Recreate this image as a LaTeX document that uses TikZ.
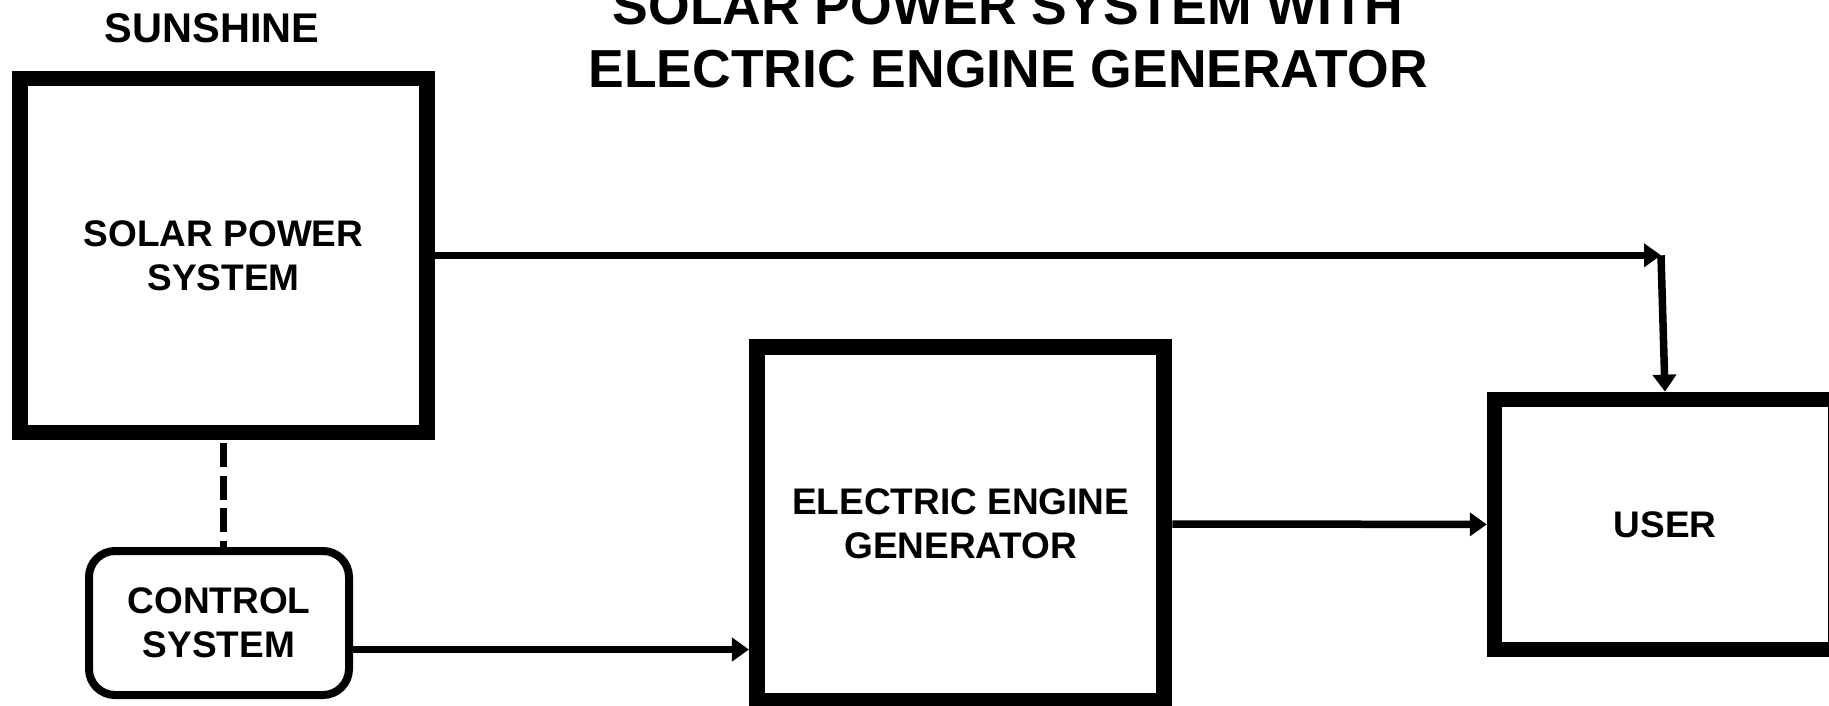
\documentclass[tikz,border=0pt]{standalone}
\usepackage{fontspec}
\setmainfont{Liberation Sans}
\usetikzlibrary{arrows.meta}
\newcommand\dgbody{\fontsize{37pt}{44pt}\selectfont\bfseries}
\newcommand\dgtitle{\fontsize{53.5pt}{62.7pt}\selectfont\bfseries}
\newcommand\dgsun{\fontsize{41.5pt}{48pt}\selectfont\bfseries}
\begin{document}
\begin{tikzpicture}[x=1pt,y=-1pt,
  box/.style={draw, rectangle, line width=15.5pt, align=center, font=\dgbody},
  ctrlbox/.style={draw, rectangle, rounded corners=26pt, line width=8pt, align=center, font=\dgbody},
  conn/.style={line width=7.5pt, -{Triangle[length=17pt,width=23pt]}},
  dashconn/.style={line width=7.7pt, dash pattern=on 24pt off 8.5pt, dash phase=29.5pt}
]
\useasboundingbox (0,0) rectangle (1829,705);
\clip (0,0) rectangle (1829,705);

\node[font=\dgtitle, align=center] (title) at (1008,37.3) {SOLAR POWER SYSTEM WITH\\ELECTRIC ENGINE GENERATOR};
\node[font=\dgsun] (sun) at (212,28.3) {SUNSHINE};

\node[box, minimum width=407pt, minimum height=354pt] (solar) at (223.6,255.3) {SOLAR POWER\\SYSTEM};
\node[box, line width=16pt, minimum width=407.5pt, minimum height=354pt] (eeg) at (960.7,524) {ELECTRIC ENGINE\\GENERATOR};
\node[box, minimum width=341pt, minimum height=250pt] (user) at (1665,524.4) {USER};
\node[ctrlbox, minimum width=260pt, minimum height=144pt] (ctrl) at (219,623) {CONTROL\\SYSTEM};

\coordinate (j) at (1661,255.3);
\coordinate (cy) at (0,649.5);

\draw[conn] (solar.east) -- (j);
\draw[conn] (j) -- (user.north);
\draw[conn] (eeg.east) -- (user.west);
\draw[conn] (ctrl.east |- cy) -- (eeg.west |- cy);
\draw[dashconn] (solar.south) -- (solar.south |- ctrl.north);
\end{tikzpicture}
\end{document}
